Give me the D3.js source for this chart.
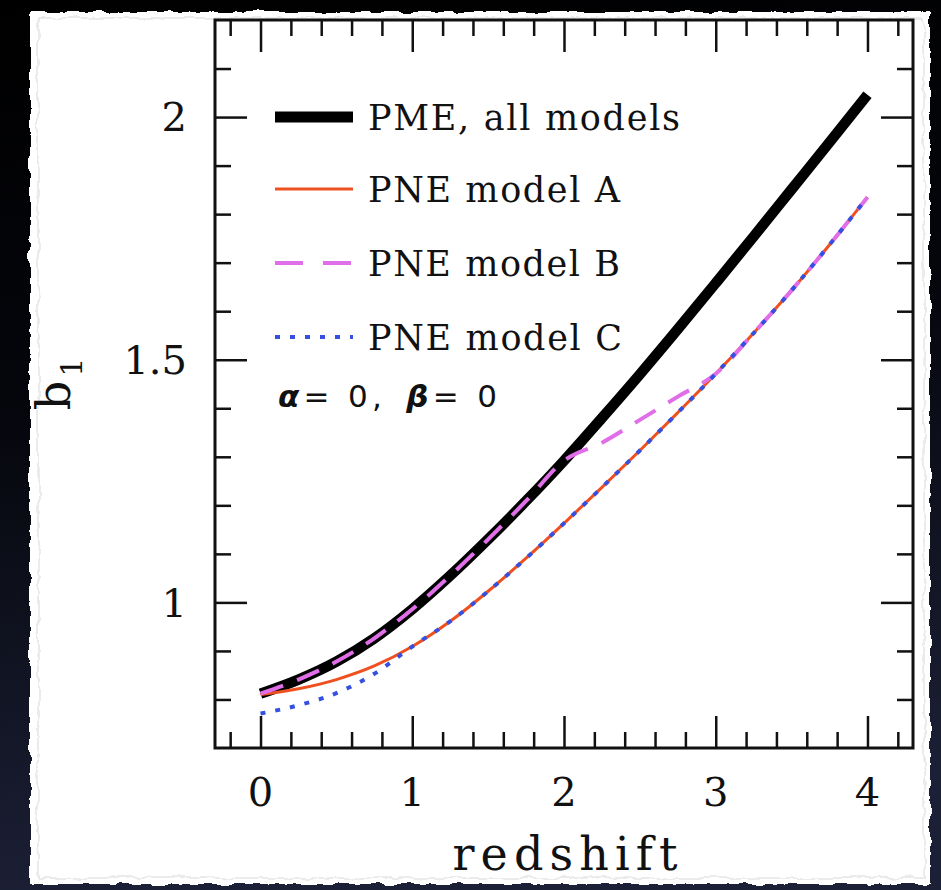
<!DOCTYPE html>
<html>
<head>
<meta charset="utf-8">
<script src="https://cdn.jsdelivr.net/npm/d3@7"></script>
<style>
  html, body { margin: 0; padding: 0; background: #000; }
  svg { display: block; }
</style>
</head>
<body>
<svg id="chart" width="941" height="890"></svg>
<script>
// Linear bias b1 versus redshift
const redshift = [0, 0.25, 0.5, 0.75, 1, 1.25, 1.5, 1.75, 2, 2.25, 2.5, 2.75, 3, 3.25, 3.5, 3.75, 4];

const pmeAll = [0.812, 0.841, 0.878, 0.926, 0.986, 1.055, 1.130, 1.209, 1.292, 1.380, 1.470, 1.563, 1.658, 1.754, 1.851, 1.948, 2.046];
const pneA   = [0.810, 0.822, 0.841, 0.869, 0.909, 0.961, 1.023, 1.091, 1.163, 1.237, 1.313, 1.391, 1.471, 1.555, 1.643, 1.737, 1.835];
const pneB   = [0.812, 0.841, 0.878, 0.926, 0.986, 1.055, 1.130, 1.209, 1.292, 1.329, 1.376, 1.424, 1.471, 1.555, 1.643, 1.737, 1.835];
const pneC   = [0.771, 0.788, 0.813, 0.853, 0.909, 0.961, 1.023, 1.091, 1.163, 1.237, 1.313, 1.391, 1.471, 1.555, 1.643, 1.737, 1.835];

const xMajor = [0, 1, 2, 3, 4];
const xMinor = [-0.2, 0.2, 0.4, 0.6, 0.8, 1.2, 1.4, 1.6, 1.8, 2.2, 2.4, 2.6, 2.8, 3.2, 3.4, 3.6, 3.8, 4.2];
const yMajor = [1, 1.5, 2];
const yMinor = [0.8, 0.9, 1.1, 1.2, 1.3, 1.4, 1.6, 1.7, 1.8, 1.9, 2.1];

const seriesNames = ["PME, all models", "PNE model A", "PNE model B", "PNE model C"];
const alphaValue = 0, betaValue = 0;

const svg = d3.select("#chart");
const defs = svg.append("defs");

// dark backdrop
const bg = defs.append("linearGradient").attr("id", "bg").attr("x1", 0).attr("y1", 0).attr("x2", 0.15).attr("y2", 1);
bg.append("stop").attr("offset", "0%").attr("stop-color", "#000000");
bg.append("stop").attr("offset", "45%").attr("stop-color", "#05060c");
bg.append("stop").attr("offset", "100%").attr("stop-color", "#1c2036");
svg.append("rect").attr("width", 941).attr("height", 890).attr("fill", "url(#bg)");

// torn paper edge
const rough = defs.append("filter").attr("id", "rough").attr("x", "-2%").attr("y", "-2%").attr("width", "104%").attr("height", "104%");
rough.append("feTurbulence").attr("type", "fractalNoise").attr("baseFrequency", 0.06).attr("numOctaves", 3).attr("seed", 4).attr("result", "noise");
rough.append("feDisplacementMap").attr("in", "SourceGraphic").attr("in2", "noise").attr("scale", 7)
  .attr("xChannelSelector", "R").attr("yChannelSelector", "G");

svg.append("rect").attr("x", 30).attr("y", 12).attr("width", 900).attr("height", 872)
  .attr("fill", "#ffffff").attr("filter", "url(#rough)");
svg.append("rect").attr("x", 38).attr("y", 18).attr("width", 886).attr("height", 860)
  .attr("fill", "none").attr("stroke", "#d8d8d8").attr("stroke-width", 1).attr("filter", "url(#rough)");

// plot frame
const pLeft = 215, pRight = 913, pTop = 20, pBottom = 748;
const x = d3.scaleLinear().domain([-0.3, 4.3]).range([pLeft, pRight]);
const y = d3.scaleLinear().domain([0.7, 2.2]).range([pBottom, pTop]);

const majorLen = 32, minorLen = 16;
const axes = svg.append("g").attr("class", "axes");

function drawAxis(axisGen, tf) {
  const g = axes.append("g").attr("transform", tf).call(axisGen);
  g.select(".domain").remove();
  g.selectAll("text").remove();
  g.selectAll("line").attr("stroke", "#111").attr("stroke-width", 2.5);
  return g;
}
// bottom & top
drawAxis(d3.axisBottom(x).tickValues(xMajor).tickSize(-majorLen), `translate(0,${pBottom})`);
drawAxis(d3.axisBottom(x).tickValues(xMinor).tickSize(-minorLen), `translate(0,${pBottom})`);
drawAxis(d3.axisTop(x).tickValues(xMajor).tickSize(-majorLen), `translate(0,${pTop})`);
drawAxis(d3.axisTop(x).tickValues(xMinor).tickSize(-minorLen), `translate(0,${pTop})`);
// left & right
drawAxis(d3.axisLeft(y).tickValues(yMajor).tickSize(-majorLen), `translate(${pLeft},0)`);
drawAxis(d3.axisLeft(y).tickValues(yMinor).tickSize(-minorLen), `translate(${pLeft},0)`);
drawAxis(d3.axisRight(y).tickValues(yMajor).tickSize(-majorLen), `translate(${pRight},0)`);
drawAxis(d3.axisRight(y).tickValues(yMinor).tickSize(-minorLen), `translate(${pRight},0)`);

svg.append("rect").attr("x", pLeft).attr("y", pTop).attr("width", pRight - pLeft).attr("height", pBottom - pTop)
  .attr("fill", "none").attr("stroke", "#111").attr("stroke-width", 3);

// tick labels
const tickFont = "'DejaVu Serif', serif";
svg.append("g").selectAll("text").data(xMajor).join("text")
  .attr("x", d => x(d)).attr("y", 806)
  .attr("text-anchor", "middle").attr("font-family", tickFont).attr("font-size", 40)
  .attr("fill", "#111").text(d => d3.format("d")(d));
svg.append("g").selectAll("text").data(yMajor).join("text")
  .attr("x", 187).attr("y", d => y(d)).attr("dy", "0.36em")
  .attr("text-anchor", "end").attr("font-family", tickFont).attr("font-size", 40)
  .attr("fill", "#111").text(d => d === 1.5 ? "1.5" : d3.format("d")(d));

// axis titles
svg.append("text").attr("x", 565).attr("y", 870).attr("text-anchor", "middle")
  .attr("font-family", tickFont).attr("font-size", 46).attr("fill", "#111")
  .attr("textLength", 225).attr("lengthAdjust", "spacing").text("redshift");
const yt = svg.append("text").attr("transform", "translate(70,384) rotate(-90)")
  .attr("text-anchor", "middle").attr("font-family", tickFont).attr("font-size", 46).attr("fill", "#111");
yt.append("tspan").text("b");
yt.append("tspan").attr("font-size", 30).attr("dy", 12).attr("dx", 4).text("1");

// curves
const clipId = "plotclip";
defs.append("clipPath").attr("id", clipId).append("rect")
  .attr("x", pLeft).attr("y", pTop).attr("width", pRight - pLeft).attr("height", pBottom - pTop);
const plot = svg.append("g").attr("clip-path", `url(#${clipId})`);

const line = d3.line().x((d, i) => x(redshift[i])).y(d => y(d)).curve(d3.curveMonotoneX);

const styles = [
  { data: pmeAll, color: "#000000", width: 10.5, dash: null },
  { data: pneA, color: "#ee5020", width: 3, dash: null },
  { data: pneB, color: "#e06ee8", width: 4, dash: "24,15" },
  { data: pneC, color: "#3550e0", width: 4, dash: "5,10" }
];

styles.forEach(s => {
  plot.append("path").datum(s.data)
    .attr("d", line).attr("fill", "none")
    .attr("stroke", s.color).attr("stroke-width", s.width)
    .attr("stroke-dasharray", s.dash);
});

// legend
const legendX1 = 275, legendX2 = 353, legendTextX = 368;
const legendY = [117, 189, 263, 337];
const legendLen = [312, 252, 252, 254];
const legend = svg.append("g");
styles.forEach((s, i) => {
  legend.append("line")
    .attr("x1", legendX1).attr("x2", legendX2)
    .attr("y1", legendY[i]).attr("y2", legendY[i])
    .attr("stroke", s.color).attr("stroke-width", i === 0 ? 11 : s.width)
    .attr("stroke-dasharray", i === 2 ? "28,20" : (i === 3 ? "5,10" : null));
  legend.append("text")
    .attr("x", legendTextX).attr("y", legendY[i] + 13)
    .attr("font-family", tickFont).attr("font-size", 35).attr("fill", "#111")
    .attr("textLength", legendLen[i]).attr("lengthAdjust", "spacing")
    .text(seriesNames[i]);
});

// model parameters
const params = legend.append("text")
  .attr("x", 278).attr("y", 407)
  .attr("font-family", "'DejaVu Sans', sans-serif").attr("font-size", 31).attr("fill", "#111");
params.append("tspan").attr("font-style", "italic").attr("font-weight", "bold").text("α");
params.append("tspan").text(`= ${alphaValue}, `);
params.append("tspan").attr("dx", 6).attr("font-style", "italic").attr("font-weight", "bold").text("β");
params.append("tspan").text(`= ${betaValue}`);
params.attr("textLength", 219).attr("lengthAdjust", "spacing");
</script>
</body>
</html>
